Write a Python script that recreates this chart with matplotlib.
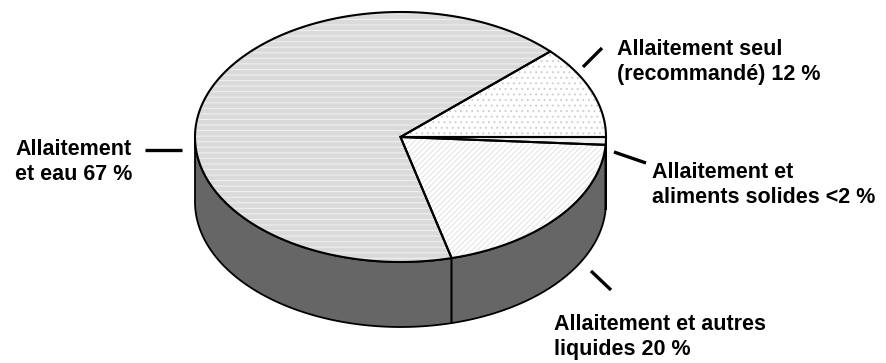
import numpy as np
import matplotlib
matplotlib.use("Agg")
import matplotlib.pyplot as plt
from matplotlib.patches import Polygon

plt.rcParams['font.family'] = ['Liberation Sans', 'DejaVu Sans']

# Share of infants by feeding practice (percent), counter-clockwise from 3 o'clock
categories = ["Allaitement seul (recommandé)", "Allaitement et eau",
              "Allaitement et autres liquides", "Allaitement et aliments solides"]
values = [12, 67, 20, 1]
labels = ["Allaitement seul\n(recommandé) 12 %",
          "Allaitement\net eau 67 %",
          "Allaitement et autres\nliquides 20 %",
          "Allaitement et\naliments solides <2 %"]

# slice styling: face colour, hatch, hatch colour
styles = [("#ffffff", "...", "#cfcfcf"),
          ("#dadada", "---", "#f2f2f2"),
          ("#ffffff", "//////", "#e2e2e2"),
          ("#f0f0f0", "", "#f0f0f0")]
side_color = "#666666"

# pie geometry in pixel units
cx, cy = 400.5, 137.0
rx, ry = 205.5, 125.0
depth = 65.0

fig = plt.figure(figsize=(8.86, 3.63), dpi=100)
ax = fig.add_axes([0, 0, 1, 1])
ax.set_xlim(0, 886)
ax.set_ylim(363, 0)
ax.axis("off")
plt.rcParams['hatch.linewidth'] = 0.7


def pt(theta_deg, dy=0.0):
    t = np.radians(theta_deg)
    return cx + rx * np.cos(t), cy - ry * np.sin(t) + dy


bounds = np.concatenate([[0], np.cumsum(values)]) / np.sum(values) * 360.0

# side walls (front half only: 180..360 degrees)
for i in range(len(values)):
    a0, a1 = max(bounds[i], 180.0), min(bounds[i + 1], 360.0)
    if a1 <= a0:
        continue
    th = np.linspace(a0, a1, 100)
    top = [pt(t) for t in th]
    bot = [pt(t, depth) for t in th[::-1]]
    ax.add_patch(Polygon(top + bot, closed=True, facecolor=side_color,
                         edgecolor="black", linewidth=1.3, zorder=1))

# top faces
for i in range(len(values)):
    th = np.linspace(bounds[i], bounds[i + 1], 200)
    verts = [(cx, cy)] + [pt(t) for t in th]
    fc, hatch, hc = styles[i]
    ax.add_patch(Polygon(verts, closed=True, facecolor=fc, edgecolor=hc,
                         hatch=hatch, linewidth=0, zorder=2))
    ax.add_patch(Polygon(verts, closed=True, facecolor="none",
                         edgecolor="black", linewidth=1.5, zorder=3))

# labels with leader lines
fs = 15.5
ls = 1.2
ax.text(15, 162, labels[1], fontsize=fs, fontweight="bold", ha="left",
        va="center", linespacing=ls)
ax.plot([145, 182], [150, 150], color="black", lw=2.4, solid_capstyle="butt")

ax.text(617, 62, labels[0], fontsize=fs, fontweight="bold", ha="left",
        va="center", linespacing=ls)
ax.plot([583, 602], [67, 48], color="black", lw=2.4, solid_capstyle="butt")

ax.text(652, 185, labels[3], fontsize=fs, fontweight="bold", ha="left",
        va="center", linespacing=ls)
ax.plot([614, 646], [152, 163], color="black", lw=2.4, solid_capstyle="butt")

ax.text(554, 337, labels[2], fontsize=fs, fontweight="bold", ha="left",
        va="center", linespacing=ls)
ax.plot([591, 611], [271, 290], color="black", lw=2.4, solid_capstyle="butt")

fig.savefig("out.png", dpi=100)
